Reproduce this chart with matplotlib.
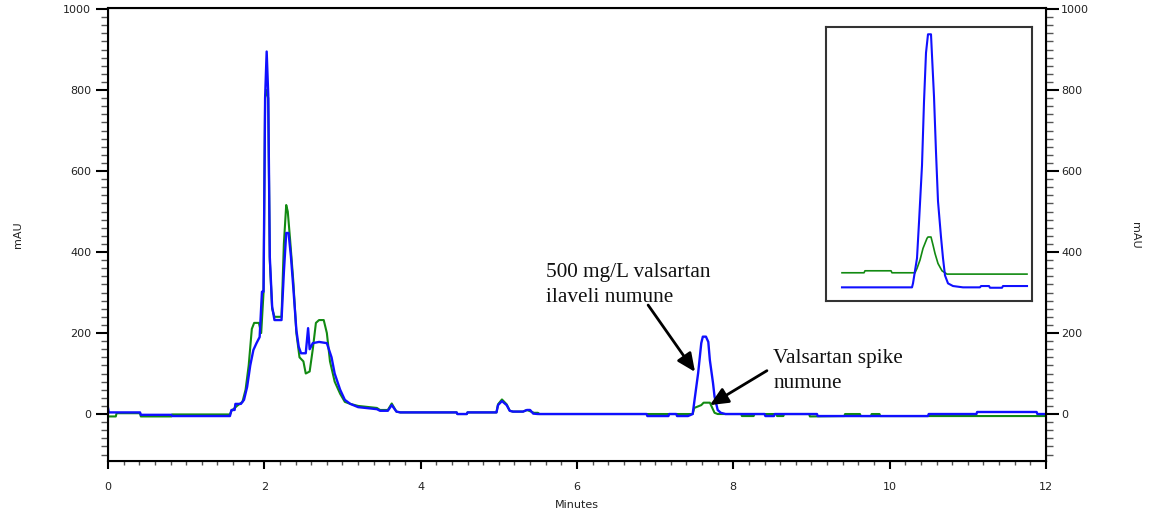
import matplotlib
matplotlib.use('Agg')
from matplotlib import pyplot as plt
import matplotlib.ticker as ticker
import numpy as np

# chromatogram, 500 mg/L valsartan spiked sample (blue)
blue_t = [0.0, 0.01, 0.41, 0.42, 0.81, 0.82, 1.56, 1.58, 1.62, 1.63, 1.70, 1.74, 1.78, 1.82,
          1.86, 1.90, 1.94, 1.97, 1.99, 2.01, 2.03, 2.05, 2.07, 2.10, 2.13, 2.22, 2.25, 2.28,
          2.31, 2.34, 2.37, 2.41, 2.44, 2.47, 2.53, 2.56, 2.58, 2.62, 2.70, 2.80, 2.86, 2.90,
          2.97, 3.03, 3.10, 3.20, 3.44, 3.48, 3.58, 3.63, 3.69, 3.74, 4.46, 4.47, 4.59, 4.60,
          4.97, 4.99, 5.04, 5.10, 5.14, 5.18, 5.31, 5.36, 5.40, 5.44, 5.50, 6.89, 6.90, 7.17,
          7.18, 7.27, 7.28, 7.42, 7.48, 7.55, 7.59, 7.61, 7.65, 7.68, 7.70, 7.74, 7.76, 7.80,
          7.84, 7.90, 8.40, 8.41, 8.52, 8.53, 9.07, 9.08, 10.49, 10.50, 11.11, 11.12, 11.88,
          11.89, 12.0]
blue_v = [15, 4, 4, -2, -2, -5, -5, 10, 10, 25, 25, 35, 67, 120,
          158, 175, 190, 302, 302, 780, 895, 788, 388, 265, 232, 232, 350, 447,
          447, 390, 314, 207, 166, 150, 150, 212, 160, 175, 178, 175, 140, 100,
          60, 35, 25, 17, 12, 8, 8, 22, 6, 4, 4, 0, 0, 4,
          4, 22, 32, 22, 8, 6, 6, 10, 10, 1, 0, 0, -5, -5,
          0, 0, -5, -5, 0, 101, 175, 191, 191, 178, 133, 77, 43, 10,
          3, 0, 0, -5, -5, 0, 0, -5, -5, 0, 0, 5, 5,
          0, 0]

# Valsartan spike sample (green)
green_t = [0.0, 0.10, 0.11, 0.41, 0.42, 0.81, 0.82, 1.56, 1.58, 1.65, 1.72, 1.76, 1.80, 1.84,
           1.87, 1.93, 1.96, 1.99, 2.01, 2.03, 2.05, 2.07, 2.10, 2.13, 2.22, 2.25, 2.28, 2.30,
           2.33, 2.37, 2.41, 2.45, 2.50, 2.53, 2.58, 2.62, 2.66, 2.70, 2.76, 2.80, 2.84, 2.90,
           2.97, 3.03, 3.10, 3.20, 3.44, 3.48, 3.58, 3.63, 3.69, 3.74, 4.46, 4.47, 4.59, 4.60,
           4.97, 4.99, 5.04, 5.10, 5.14, 5.18, 5.31, 5.36, 5.45, 5.50, 5.52, 7.48, 7.50, 7.59,
           7.62, 7.70, 7.76, 7.80, 8.10, 8.11, 8.26, 8.27, 8.55, 8.56, 8.64, 8.65, 8.97, 8.98,
           9.42, 9.43, 9.62, 9.63, 9.76, 9.77, 9.87, 9.88, 12.0]
green_v = [-6, -6, 2, 2, -6, -6, -1, -1, 8, 20, 30, 60, 120, 210,
           225, 225, 200, 300, 780, 800, 780, 380, 260, 240, 240, 420, 516, 500,
           430, 330, 200, 140, 130, 100, 105, 160, 225, 232, 232, 200, 130, 80,
           50, 30, 25, 20, 15, 10, 10, 26, 6, 4, 4, 0, 0, 4,
           4, 24, 36, 24, 8, 6, 6, 10, 3, 3, 0, 0, 15, 22,
           28, 28, 3, 0, 0, -5, -5, 0, 0, -5, -5, 0, 0, -6,
           -5, 0, 0, -5, -5, 0, 0, -5, -5]

# expanded view of the valsartan peak
inset_t = [6.75, 7.45, 7.46, 7.50, 7.52, 7.55, 7.57, 7.59, 7.61, 7.64, 7.65, 7.67, 7.69, 7.71,
           7.74, 7.76, 7.78, 7.81, 7.86, 7.96, 8.13, 8.14, 8.22, 8.23, 8.35, 8.36, 8.60]
inset_blue = [0, 0, 3, 22, 49, 92, 140, 177, 191, 191, 175, 144, 102, 65,
              38, 22, 9, 3, 1, 0, 0, 1, 1, -0.3, -0.3, 1, 1]
inset_green_t = [6.75, 6.97, 6.98, 7.24, 7.25, 7.48, 7.50, 7.53, 7.56, 7.60, 7.61, 7.64, 7.66,
                 7.68, 7.71, 7.75, 7.80, 8.60]
inset_green = [0, 0, 1.5, 1.5, 0, 0, 3.3, 9.6, 18.4, 26, 27, 27, 21,
               14.6, 7, 1.5, -1, -1]
inset_green_offset = 11

y_ticks = [0, 200, 400, 600, 800, 1000]
x_ticks = [0, 2, 4, 6, 8, 10, 12]

BLUE = '#1010ff'
GREEN = '#128a12'
tick_font = dict(fontsize=8, color='#222222')

fig = plt.figure(figsize=(11.55, 5.12), dpi=100)
ax = fig.add_axes([0.0935, 0.0996, 0.8121, 0.8848])

ax.plot(green_t, green_v, color=GREEN, lw=1.5)
ax.plot(blue_t, blue_v, color=BLUE, lw=1.7)

ax.set_xlim(0, 12)
ax.set_ylim(-116, 1002.5)
ax.set_xticks(x_ticks)
ax.set_xticklabels([str(x) for x in x_ticks], **tick_font)
ax.xaxis.set_minor_locator(ticker.MultipleLocator(0.2))
ax.set_yticks(y_ticks)
ax.set_yticklabels([str(y) for y in y_ticks], **tick_font)
ax.yaxis.set_minor_locator(ticker.MultipleLocator(20))
ax.tick_params(axis='y', which='major', direction='out', length=9, width=1.5, pad=3)
ax.tick_params(axis='y', which='minor', direction='out', length=5, width=1, color='#555555')
ax.tick_params(axis='x', which='major', direction='out', length=6, width=1.5, pad=9)
ax.tick_params(axis='x', which='minor', direction='out', length=3, width=1, color='#555555')
for sp in ax.spines.values():
    sp.set_linewidth(1.5)
ax.set_xlabel('Minutes', fontsize=8, color='#222222', labelpad=6)

ax2 = ax.twinx()
ax2.set_ylim(ax.get_ylim())
ax2.set_yticks(y_ticks)
ax2.set_yticklabels([str(y) for y in y_ticks], **tick_font)
ax2.yaxis.set_minor_locator(ticker.MultipleLocator(20))
ax2.tick_params(axis='y', which='major', direction='out', length=9, width=1.5, pad=2)
ax2.tick_params(axis='y', which='minor', direction='out', length=5, width=1, color='#555555')

# axis titles on both sides
fig.text(18 / 1155, 1 - 235 / 512, 'mAU', fontsize=8, color='#222222',
         rotation=90, ha='center', va='center')
fig.text(1135 / 1155, 1 - 235 / 512, 'mAU', fontsize=8, color='#222222',
         rotation=270, ha='center', va='center')

# peak labels
txt = dict(fontsize=15.3, family='Liberation Serif', color='#111111', va='top', ha='left',
           linespacing=1.38)
ax.text(5.60, 372, '500 mg/L valsartan\nilaveli numune', **txt)
ax.text(8.51, 160, 'Valsartan spike\nnumune', **txt)
arrow = dict(arrowstyle='-|>,head_length=1.1,head_width=0.5', color='black', lw=2,
             shrinkA=0, shrinkB=0)
ax.annotate('', xy=(7.51, 104), xytext=(6.91, 269), arrowprops=arrow)
ax.annotate('', xy=(7.70, 22), xytext=(8.43, 107), arrowprops=arrow)

# inset box with the zoomed peak
ins = fig.add_axes([826 / 1155, 1 - 301 / 512, 206 / 1155, 274 / 512])
ins.plot(inset_green_t, np.array(inset_green) + inset_green_offset, color=GREEN, lw=1.2)
ins.plot(inset_t, inset_blue, color=BLUE, lw=1.5)
ins.set_xlim(6.59, 8.65)
ins.set_ylim(-10.3, 196.5)
ins.set_xticks([])
ins.set_yticks([])
for sp in ins.spines.values():
    sp.set_linewidth(1.5)
    sp.set_color('#333333')

fig.savefig('out.png', dpi=100)
